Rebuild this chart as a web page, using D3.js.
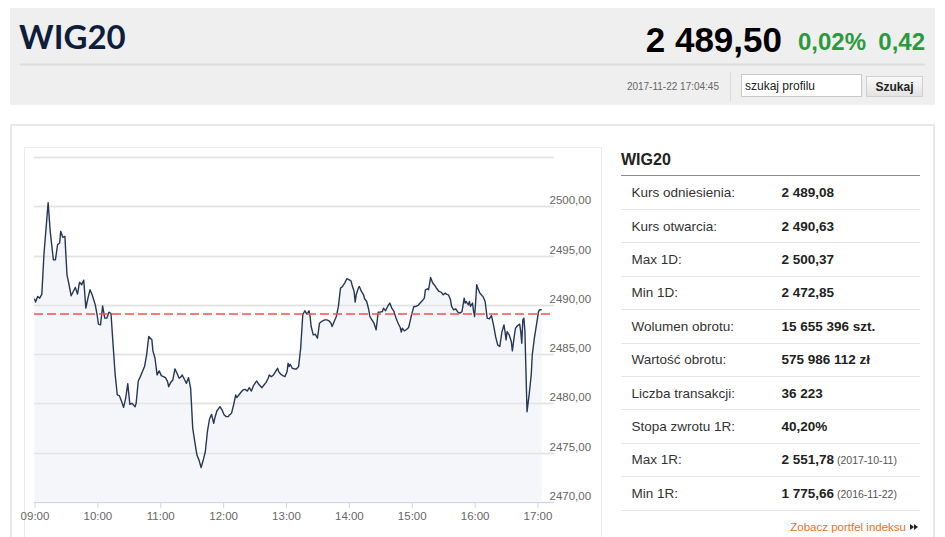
<!DOCTYPE html>
<html><head><meta charset="utf-8">
<script src="https://cdn.jsdelivr.net/npm/d3@7/dist/d3.min.js"></script>
<style>
body{margin:0;background:#fff;}
svg{display:block;font-family:"Liberation Sans",Arial,sans-serif;}
</style>
</head><body><svg id="c" width="945" height="537"></svg>
<script>
// ---------- DATA ----------
const times = ["09:00","09:01","09:03","09:05","09:07","09:09","09:13","09:15","09:18","09:20","09:22","09:24","09:25","09:27","09:29","09:31","09:33","09:35","09:37","09:39","09:41","09:43","09:45","09:47","09:49","09:51","09:53","09:55","09:58","10:00","10:01","10:03","10:05","10:07","10:09","10:11","10:13","10:15","10:17","10:19","10:21","10:23","10:25","10:27","10:29","10:31","10:33","10:36","10:37","10:39","10:41","10:43","10:45","10:47","10:49","10:52","10:53","10:55","10:57","10:59","11:01","11:03","11:05","11:07","11:08","11:10","11:12","11:14","11:16","11:18","11:20","11:21","11:23","11:25","11:27","11:29","11:31","11:33","11:35","11:37","11:39","11:41","11:43","11:45","11:47","11:49","11:51","11:52","11:54","11:57","11:59","12:01","12:03","12:05","12:06","12:08","12:10","12:12","12:13","12:15","12:17","12:19","12:21","12:23","12:25","12:27","12:29","12:31","12:32","12:34","12:37","12:39","12:41","12:43","12:44","12:46","12:48","12:50","12:52","12:53","12:55","12:57","12:59","13:01","13:02","13:03","13:04","13:06","13:08","13:10","13:12","13:14","13:16","13:18","13:20","13:22","13:23","13:24","13:26","13:28","13:30","13:32","13:34","13:35","13:37","13:39","13:41","13:43","13:44","13:46","13:48","13:50","13:52","13:54","13:56","13:58","14:00","14:02","14:03","14:05","14:06","14:07","14:09","14:10","14:12","14:14","14:15","14:17","14:19","14:20","14:22","14:24","14:26","14:28","14:30","14:32","14:33","14:35","14:37","14:39","14:41","14:43","14:45","14:47","14:49","14:50","14:51","14:53","14:55","14:57","14:58","15:00","15:02","15:04","15:06","15:08","15:10","15:12","15:13","15:15","15:16","15:18","15:20","15:22","15:24","15:26","15:28","15:30","15:32","15:33","15:35","15:37","15:38","15:40","15:42","15:44","15:46","15:48","15:49","15:50","15:51","15:52","15:54","15:55","15:56","15:58","15:59","16:00","16:01","16:02","16:03","16:05","16:07","16:08","16:10","16:11","16:12","16:14","16:16","16:18","16:20","16:22","16:24","16:26","16:28","16:29","16:30","16:31","16:33","16:34","16:35","16:36","16:38","16:39","16:41","16:43","16:44","16:45","16:46","16:47","16:48","16:49","16:50","16:52","16:54","16:55","16:57","16:59","17:01","17:02","17:04"];
const values = [2490.63,2490.28,2490.85,2490.68,2491.09,2495.09,2500.37,2497.46,2494.58,2494.58,2496.10,2496.27,2497.46,2496.85,2496.95,2493.05,2492.04,2490.92,2491.36,2491.77,2491.09,2492.31,2492.04,2492.51,2489.67,2490.68,2491.53,2491.02,2490.00,2488.82,2488.04,2487.97,2489.90,2488.65,2488.65,2489.26,2489.12,2485.94,2482.89,2480.86,2480.79,2480.25,2479.60,2480.52,2482.01,2479.91,2480.01,2479.67,2480.01,2482.28,2482.72,2483.23,2483.74,2484.92,2486.79,2486.45,2485.33,2484.58,2482.89,2483.30,2482.82,2482.72,2482.62,2482.21,2481.70,2482.14,2482.38,2483.50,2483.06,2482.55,2482.72,2482.89,2482.45,2482.04,2482.62,2481.53,2477.47,2476.11,2474.76,2474.25,2473.50,2474.25,2475.10,2477.13,2478.42,2478.89,2477.98,2478.49,2479.23,2479.67,2479.33,2478.83,2478.66,2478.66,2478.83,2479.00,2479.84,2480.86,2480.59,2480.86,2481.13,2481.37,2481.43,2481.26,2481.60,2481.26,2481.81,2482.14,2482.28,2481.94,2481.60,2481.87,2482.14,2482.55,2482.89,2482.72,2482.89,2483.23,2483.57,2483.23,2482.96,2482.82,2482.72,2483.23,2484.08,2483.74,2483.97,2483.57,2483.50,2483.50,2483.74,2485.60,2488.99,2489.40,2489.06,2489.40,2488.82,2487.80,2486.96,2487.02,2486.62,2488.14,2488.31,2488.38,2488.48,2488.48,2488.38,2488.14,2487.80,2488.31,2488.82,2489.84,2491.70,2491.87,2492.21,2492.65,2492.55,2492.44,2492.04,2491.36,2490.28,2491.02,2491.70,2491.87,2491.36,2491.02,2490.62,2490.34,2489.50,2488.82,2488.48,2488.14,2487.46,2489.26,2489.26,2489.33,2489.67,2489.40,2489.84,2490.18,2489.67,2489.33,2488.65,2488.14,2487.70,2487.23,2487.63,2487.36,2487.50,2487.70,2488.14,2489.06,2489.84,2489.84,2489.94,2490.18,2490.41,2490.68,2491.53,2491.63,2491.53,2492.78,2492.21,2491.97,2491.63,2491.36,2491.29,2491.02,2491.19,2491.09,2491.02,2490.51,2489.84,2489.50,2489.60,2489.26,2489.16,2489.33,2490.00,2490.68,2490.18,2490.34,2490.00,2490.34,2489.84,2490.18,2489.33,2488.82,2490.34,2492.04,2491.70,2491.19,2490.95,2490.85,2490.34,2489.50,2488.65,2488.58,2488.92,2487.97,2486.79,2485.94,2485.77,2487.23,2487.97,2487.29,2486.45,2487.29,2486.96,2486.62,2486.28,2485.33,2486.96,2487.63,2487.90,2488.04,2487.29,2486.11,2488.48,2488.65,2487.29,2483.23,2479.16,2480.86,2482.89,2484.92,2486.62,2487.97,2489.33,2489.50,2489.50];
const refValue = 2489.08;
const yTickValues = [2470,2475,2480,2485,2490,2495,2500];
const yGridValues = [2470,2475,2480,2485,2490,2495,2500,2505];
const xTickLabels = ["09:00","10:00","11:00","12:00","13:00","14:00","15:00","16:00","17:00"];

const title = "WIG20";
const lastValue = "2 489,50";
const changePct = "0,02%";
const changeAbs = "0,42";
const timestamp = "2017-11-22 17:04:45";
const searchPlaceholder = "szukaj profilu";
const searchButton = "Szukaj";

const statLabels = ["Kurs odniesienia:","Kurs otwarcia:","Max 1D:","Min 1D:","Wolumen obrotu:","Wartość obrotu:","Liczba transakcji:","Stopa zwrotu 1R:","Max 1R:","Min 1R:"];
const statValues = ["2 489,08","2 490,63","2 500,37","2 472,85","15 655 396 szt.","575 986 112 zł","36 223","40,20%","2 551,78","1 775,66"];
const statNotes  = ["","","","","","","","","(2017-10-11)","(2016-11-22)"];
const portfolioLink = "Zobacz portfel indeksu";

// ---------- DRAW ----------
const svg = d3.select("#c");
const parse = d3.timeParse("%Y-%m-%d %H:%M");
const day = "2017-11-22 ";
const data = times.map((t,i)=>({t:parse(day+t), v:values[i]}));

// header
svg.append("rect").attr("x",10).attr("y",8).attr("width",925).attr("height",97).attr("fill","#efefef");
svg.append("text").attr("x",19).attr("y",49).text(title)
  .attr("font-family","Lato, 'Open Sans', sans-serif").attr("font-weight",700).attr("font-size",33).attr("fill","#0e1d3c");
svg.append("line").attr("x1",20).attr("x2",925).attr("y1",64.5).attr("y2",64.5).attr("stroke","#dcdcdc").attr("stroke-width",2);
svg.append("text").attr("x",782).attr("y",52).attr("text-anchor","end").text(lastValue)
  .attr("font-weight",700).attr("font-size",35).attr("fill","#000");
svg.append("text").attr("x",798).attr("y",50).text(changePct)
  .attr("font-weight",700).attr("font-size",24).attr("fill","#2a9a3c");
svg.append("text").attr("x",925).attr("y",50).attr("text-anchor","end").text(changeAbs)
  .attr("font-weight",700).attr("font-size",24).attr("fill","#2a9a3c");
svg.append("text").attr("x",719).attr("y",90).attr("text-anchor","end").text(timestamp)
  .attr("font-size",10).attr("fill","#666");
svg.append("line").attr("x1",730.5).attr("x2",730.5).attr("y1",72).attr("y2",101).attr("stroke","#dadada");
svg.append("rect").attr("x",741.5).attr("y",74.5).attr("width",120).attr("height",22).attr("fill","#fff").attr("stroke","#c8c8c8");
svg.append("text").attr("x",745).attr("y",90).text(searchPlaceholder).attr("font-size",12).attr("fill","#222");
const bg = svg.append("defs").append("linearGradient").attr("id","btn").attr("x1",0).attr("x2",0).attr("y1",0).attr("y2",1);
bg.append("stop").attr("offset",0).attr("stop-color","#fafafa");
bg.append("stop").attr("offset",1).attr("stop-color","#e2e2e2");
svg.append("rect").attr("x",866.5).attr("y",76.5).attr("width",56).attr("height",20).attr("fill","url(#btn)").attr("stroke","#d0d0d0");
svg.append("text").attr("x",894.5).attr("y",91).attr("text-anchor","middle").text(searchButton)
  .attr("font-weight",700).attr("font-size",12).attr("fill","#222");

// panels
svg.append("rect").attr("x",11).attr("y",125).attr("width",923).attr("height",420).attr("fill","#fff").attr("stroke","#e8e8e8").attr("stroke-width",2);
svg.append("rect").attr("x",24.5).attr("y",147.5).attr("width",577).attr("height",400).attr("fill","#fff").attr("stroke","#ececec");

// chart
const plotL = 34, plotR = 554;
const x = d3.scaleTime().domain([parse(day+"09:00"), parse(day+"17:00")]).range([34.5, 537.5]);
const y = d3.scaleLinear().domain([2470, 2505]).range([502, 157]);
const fmt = d3.formatLocale({decimal:",", thousands:" ", grouping:[3], currency:["","zł"]}).format(".2f");

const g = svg.append("g");
g.selectAll(".grid").data(yGridValues).join("line")
  .attr("x1",plotL).attr("x2",plotR)
  .attr("y1",d=>Math.round(y(d))+0.5).attr("y2",d=>Math.round(y(d))+0.5)
  .attr("stroke","#e3e3e3").attr("stroke-width",1.5);

const area = d3.area().x(d=>x(d.t)).y0(y(2470)).y1(d=>y(d.v));
g.append("path").datum(data).attr("d",area).attr("fill","#f4f6f9");
// re-draw gridlines faintly over area (visible through fill)
g.selectAll(".grid2").data(yGridValues.filter(d=>d>2470)).join("line")
  .attr("x1",plotL).attr("x2",plotR)
  .attr("y1",d=>Math.round(y(d))+0.5).attr("y2",d=>Math.round(y(d))+0.5)
  .attr("stroke","#e3e3e3").attr("stroke-width",1.5).attr("opacity",0.9);

const line = d3.line().x(d=>x(d.t)).y(d=>y(d.v));
g.append("path").datum(data).attr("d",line).attr("fill","none")
  .attr("stroke","#27375a").attr("stroke-width",1.4).attr("stroke-linejoin","round");

g.append("line").attr("x1",plotL).attr("x2",plotR).attr("y1",y(refValue)).attr("y2",y(refValue))
  .attr("stroke","#ff4d4d").attr("stroke-width",1.5).attr("stroke-dasharray","9,4");

// x axis
const xAxis = d3.axisBottom(x)
  .tickValues(xTickLabels.map(t=>parse(day+t)))
  .tickFormat(d3.timeFormat("%H:%M")).tickSize(6).tickSizeOuter(0);
const xa = svg.append("g").attr("transform",`translate(0,${y(2470)})`).call(xAxis);
xa.select(".domain").remove();
xa.selectAll(".tick line").attr("stroke","#ccd6eb");
xa.selectAll(".tick text").attr("fill","#666").attr("font-size",11.5)
  .attr("font-family","'Liberation Sans',Arial,sans-serif").attr("dy",null).attr("y",18);
svg.append("line").attr("x1",plotL).attr("x2",plotR).attr("y1",y(2470)+0.5).attr("y2",y(2470)+0.5).attr("stroke","#ccd6eb");

// y labels
svg.selectAll(".ylab").data(yTickValues).join("text")
  .attr("x",549.5).attr("y",d=>y(d)-2).text(d=>fmt(d))
  .attr("font-size",11.5).attr("fill","#666");

// stats table
svg.append("text").attr("x",621).attr("y",165).text(title).attr("font-weight",700).attr("font-size",16).attr("fill","#222");
svg.append("line").attr("x1",621).attr("x2",920).attr("y1",175.5).attr("y2",175.5).attr("stroke","#8a8a8a");
const rowH = 33.4, row0 = 175.5;
statLabels.forEach((lab,i)=>{
  const cy = row0 + rowH*(i+0.5);
  svg.append("text").attr("x",631.5).attr("y",cy+5).text(lab).attr("font-size",13.5).attr("fill","#333");
  const tv = svg.append("text").attr("x",781.5).attr("y",cy+5).attr("font-size",13.5).attr("fill","#222");
  tv.append("tspan").attr("font-weight",700).text(statValues[i]);
  if (statNotes[i]) tv.append("tspan").attr("font-size",10.5).attr("fill","#555").text(" "+statNotes[i]);
  svg.append("line").attr("x1",621).attr("x2",920).attr("y1",Math.round(row0+rowH*(i+1))+0.5).attr("y2",Math.round(row0+rowH*(i+1))+0.5).attr("stroke","#e6e6e6");
});
svg.append("text").attr("x",906).attr("y",531).attr("text-anchor","end").text(portfolioLink)
  .attr("font-size",11.5).attr("fill","#f07020");
const tri = svg.append("g").attr("fill","#222");
tri.append("path").attr("d","M910,524 L914,527 L910,530 Z");
tri.append("path").attr("d","M914,524 L918,527 L914,530 Z");
</script>
</body></html>
